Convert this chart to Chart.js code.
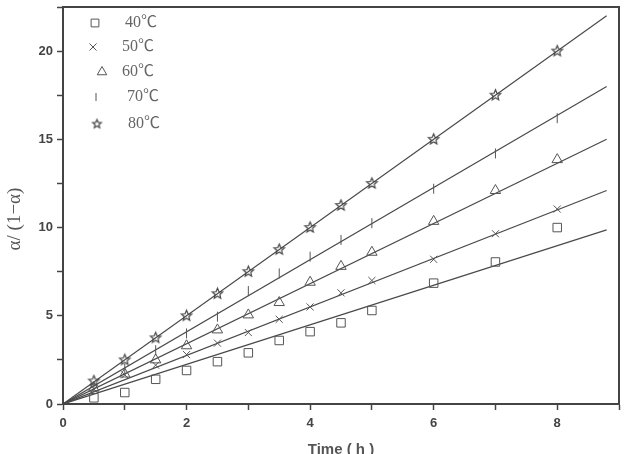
<!DOCTYPE html>
<html>
<head>
<meta charset="utf-8">
<script src="https://cdn.jsdelivr.net/npm/chart.js@4/dist/chart.umd.min.js"></script>
<style>
html,body{margin:0;padding:0;background:#fff;}
#wrap{width:626px;height:454px;position:relative;}
</style>
</head>
<body>
<div id="wrap"><canvas id="c"></canvas></div>
<script>
// time points (h)
const times = [0.5,1,1.5,2,2.5,3,3.5,4,4.5,5,6,7,8];
const labels = ['40℃','50℃','60℃','70℃','80℃'];
// measured alpha/(1-alpha)
const y40 = [0.35,0.65,1.4,1.9,2.4,2.9,3.6,4.1,4.6,5.3,6.85,8.05,10.0];
const y50 = [0.85,1.65,2.2,2.8,3.45,4.05,4.8,5.5,6.3,7.0,8.2,9.65,11.05];
const y60 = [0.9,1.7,2.5,3.3,4.2,5.05,5.75,6.9,7.8,8.6,10.35,12.1,13.85];
const y70 = [1.0,2.0,3.05,4.0,4.95,6.4,7.4,8.35,9.3,10.25,12.2,14.2,16.2];
const y80 = [1.3,2.5,3.75,5.0,6.25,7.5,8.75,10.0,11.25,12.5,15.0,17.5,20.0];
// fitted lines: start and end
const fitX = [0, 8.8];
const fit40 = [0, 9.87];
const fit50 = [0, 12.1];
const fit60 = [0, 15.0];
const fit70 = [0, 18.0];
const fit80 = [0, 22.0];

const MK = '#555';
const LN = '#4a4a4a';

// five-point star outline for the 80 series
function starCanvas(r){
  const s = Math.ceil(r*2+4), cv = document.createElement('canvas');
  cv.width = s; cv.height = s;
  const g = cv.getContext('2d'), c = s/2;
  g.beginPath();
  for(let i=0;i<10;i++){
    const a = -Math.PI/2 + i*Math.PI/5, rr = i%2 ? r*0.45 : r;
    const px = c + rr*Math.cos(a), py = c + rr*Math.sin(a);
    i ? g.lineTo(px,py) : g.moveTo(px,py);
  }
  g.closePath();
  g.strokeStyle = '#444'; g.lineWidth = 1.2; g.stroke();
  return cv;
}
const star = starCanvas(5.5);
const starSmall = starCanvas(4.5);

const pts = ys => times.map((t,i)=>({x:t,y:ys[i]}));
const fit = ys => fitX.map((t,i)=>({x:t,y:ys[i]}));

const styles = [
  {pointStyle:'rect', radius:6, rotation:0},
  {pointStyle:'crossRot', radius:5, rotation:0},
  {pointStyle:'triangle', radius:6, rotation:0},
  {pointStyle:'line', radius:5, rotation:90},
  {pointStyle:star, radius:6, rotation:0}
];
const series = [y40,y50,y60,y70,y80];
const fits = [fit40,fit50,fit60,fit70,fit80];

const datasets = [];
fits.forEach(f=>datasets.push({
  type:'line', data:fit(f), borderColor:LN, borderWidth:1.2, pointRadius:0, fill:false, order:2
}));
series.forEach((s,i)=>datasets.push({
  type:'scatter', label:labels[i], data:pts(s), showLine:false,
  pointStyle:styles[i].pointStyle, pointRadius:styles[i].radius, pointRotation:styles[i].rotation,
  pointBorderColor:MK, pointBackgroundColor:'rgba(0,0,0,0)', pointBorderWidth:1, order:1
}));

const legendPos = [
  {mx:95, tx:125, y:23, r:5.5},
  {mx:93, tx:122, y:47, r:5},
  {mx:102, tx:122, y:72, r:5.5},
  {mx:96, tx:127, y:97, r:4},
  {mx:97, tx:128, y:124, r:5}
];

const extras = {
  id:'extras',
  afterDraw(chart){
    const ctx = chart.ctx, a = chart.chartArea;
    ctx.save();
    // frame
    ctx.strokeStyle = '#444'; ctx.lineWidth = 2;
    ctx.strokeRect(a.left, a.top, a.right-a.left, a.bottom-a.top);
    // legend
    labels.forEach((l,i)=>{
      const p = legendPos[i], st = styles[i];
      ctx.strokeStyle = MK; ctx.fillStyle = 'rgba(0,0,0,0)'; ctx.lineWidth = 1;
      const ps = i===4 ? starSmall : st.pointStyle;
      Chart.helpers.drawPoint(ctx, {pointStyle:ps, radius:p.r, rotation:st.rotation, borderWidth:1}, p.mx, p.y);
      ctx.font = '16px "Liberation Serif", "Noto Sans CJK SC", serif';
      ctx.fillStyle = '#666'; ctx.textBaseline = 'middle'; ctx.textAlign = 'left';
      ctx.fillText(l, p.tx, p.y);
    });
    // y title
    ctx.translate(15, 219);
    ctx.rotate(-Math.PI/2);
    ctx.textAlign = 'center'; ctx.textBaseline = 'middle';
    ctx.font = '19px "Liberation Serif", "DejaVu Serif", serif';
    ctx.fillStyle = '#555';
    ctx.fillText('α/ (1−α)', 0, 0);
    ctx.restore();
    ctx.save();
    ctx.font = 'bold 15px "Liberation Sans", Arial, sans-serif';
    ctx.fillStyle = '#555'; ctx.textAlign = 'center'; ctx.textBaseline = 'top';
    ctx.fillText('Time ( h )', (a.left+a.right)/2, 442);
    ctx.restore();
  }
};

new Chart(document.getElementById('c'), {
  type:'scatter',
  data:{datasets},
  options:{
    responsive:true, maintainAspectRatio:false, animation:false,
    layout:{padding:{top:7, right:5, left:0, bottom:0}},
    plugins:{legend:{display:false}, tooltip:{enabled:false}},
    scales:{
      x:{
        type:'linear', min:0, max:9,
        afterFit(s){ s.height = 50; s.paddingLeft = 0; s.paddingRight = 0; },
        ticks:{stepSize:1, autoSkip:false, maxRotation:0, padding:6, color:'#444',
          font:{family:'"Liberation Sans", Arial, sans-serif', size:13, weight:'bold'},
          callback:v => (v%2===0 && v<9) ? v : ''},
        grid:{drawOnChartArea:false, drawTicks:true, tickLength:6, color:'#444', tickColor:'#444', tickWidth:1.5},
        border:{display:true, color:'#444', width:2}
      },
      y:{
        type:'linear', min:0, max:22.5,
        afterFit(s){ s.width = 63; s.paddingTop = 0; s.paddingBottom = 0; },
        ticks:{stepSize:2.5, autoSkip:false, padding:4, color:'#444',
          font:{family:'"Liberation Sans", Arial, sans-serif', size:13, weight:'bold'},
          callback:v => (v%5===0) ? v : ''},
        grid:{drawOnChartArea:false, drawTicks:true, tickLength:6, color:'#444', tickColor:'#444', tickWidth:1.5},
        border:{display:true, color:'#444', width:2}
      }
    }
  },
  plugins:[extras]
});
</script>
</body>
</html>
